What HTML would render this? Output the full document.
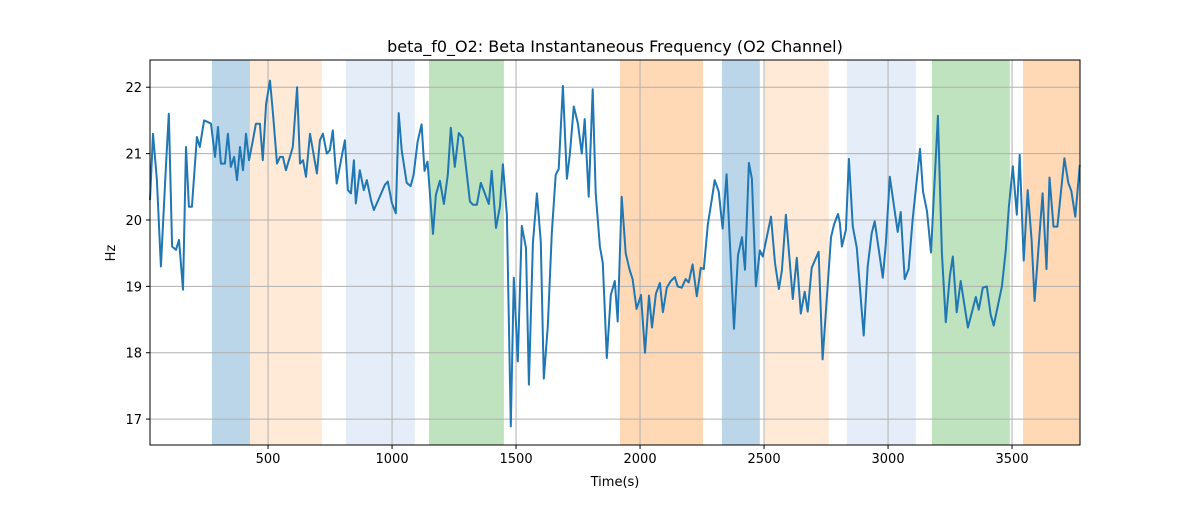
<!DOCTYPE html>
<html><head><meta charset="utf-8"><style>
body{margin:0;background:#fff;}
svg text{font-family:"DejaVu Sans","Liberation Sans",sans-serif;fill:#000;}
</style></head><body>
<svg id="chart" width="1200" height="500" xmlns="http://www.w3.org/2000/svg">
<rect width="1200" height="500" fill="#fff"/>
<g id="bands"></g><g id="grid"></g><g id="series"></g><g id="axes"></g>
</svg>
<script>
const times=[24,36,52,68,88,100,113,129,141,157,169,181,193,213,225,242,254,270,286,298,310,326,338,350,363,375,387,399,411,423,439,451,467,479,492,508,520,536,548,560,572,588,600,617,629,641,653,669,681,697,709,721,737,749,761,777,794,810,822,834,846,854,870,886,898,915,927,971,983,999,1015,1027,1039,1059,1075,1087,1103,1119,1131,1143,1165,1177,1193,1209,1225,1237,1253,1269,1285,1314,1326,1342,1358,1374,1390,1402,1419,1435,1447,1463,1479,1491,1507,1523,1540,1552,1568,1584,1600,1612,1628,1644,1660,1672,1689,1705,1717,1733,1749,1765,1777,1793,1809,1821,1838,1850,1866,1882,1898,1910,1926,1942,1958,1970,1986,2004,2020,2036,2048,2064,2080,2092,2108,2124,2140,2152,2168,2184,2196,2212,2229,2245,2257,2273,2289,2301,2317,2333,2349,2379,2395,2411,2423,2439,2451,2467,2483,2495,2528,2544,2560,2572,2588,2616,2632,2648,2664,2676,2692,2720,2736,2770,2782,2798,2806,2814,2830,2842,2858,2874,2902,2918,2934,2946,2979,2991,3007,3039,3051,3067,3083,3099,3129,3141,3157,3173,3201,3217,3233,3249,3261,3277,3293,3322,3338,3354,3366,3382,3398,3414,3426,3459,3475,3487,3503,3519,3531,3547,3563,3579,3591,3607,3623,3639,3651,3667,3683,3711,3727,3739,3755,3773];
const values=[20.3,21.3,20.6,19.3,20.8,21.6,19.6,19.55,19.7,18.95,21.1,20.2,20.2,21.25,21.1,21.5,21.48,21.45,20.95,21.4,20.85,20.85,21.3,20.8,20.95,20.6,21.1,20.75,21.3,20.9,21.2,21.45,21.45,20.9,21.75,22.1,21.6,20.85,20.95,20.95,20.75,20.95,21.1,22.0,20.85,20.9,20.65,21.3,21.05,20.7,21.2,21.3,21.0,21.05,21.35,20.55,20.9,21.2,20.45,20.4,20.9,20.25,20.75,20.45,20.6,20.3,20.15,20.53,20.58,20.26,20.1,21.61,21.05,20.56,20.51,20.68,21.18,21.44,20.74,20.88,19.79,20.38,20.59,20.24,20.68,21.39,20.8,21.31,21.24,20.28,20.23,20.23,20.56,20.4,20.24,20.74,19.88,20.2,20.84,20.07,16.89,19.13,17.87,19.91,19.58,17.52,19.65,20.4,19.67,17.61,18.4,19.8,20.68,20.77,22.02,20.62,21.0,21.71,21.46,21.0,21.52,20.35,21.97,20.4,19.6,19.35,17.92,18.87,19.08,18.47,20.35,19.5,19.25,19.11,18.66,18.87,18.0,18.86,18.38,18.89,19.05,18.61,18.98,19.08,19.14,19.0,18.98,19.11,19.06,19.33,18.85,19.28,19.26,19.93,20.3,20.6,20.43,19.87,20.69,18.36,19.47,19.74,19.25,20.86,20.62,19.0,19.54,19.45,20.05,19.35,18.96,19.24,20.08,18.81,19.43,18.59,18.92,18.62,19.28,19.52,17.9,19.74,19.93,20.09,19.95,19.6,19.85,20.92,19.9,19.58,18.26,19.3,19.8,19.98,19.13,19.64,20.65,19.82,20.12,19.11,19.26,20.0,21.07,20.43,20.13,19.51,21.57,19.5,18.46,19.15,19.45,18.61,19.08,18.38,18.61,18.84,18.65,18.98,19.0,18.57,18.41,19.0,19.55,20.18,20.81,20.08,20.98,19.39,20.45,19.7,18.78,19.6,20.4,19.26,20.64,19.9,19.9,20.93,20.56,20.44,20.05,20.83];
const bandStarts=[274,427,814,1149,1919,2330,2503,2834,3177,3544];
const bandEnds=[427,717,1092,1451,2254,2483,2761,3112,3491,3774];
const bandColors=["rgba(31,119,180,0.3)","rgba(255,127,14,0.16)","rgba(174,199,232,0.32)","rgba(44,160,44,0.3)","rgba(255,127,14,0.3)","rgba(31,119,180,0.3)","rgba(255,127,14,0.16)","rgba(174,199,232,0.32)","rgba(44,160,44,0.3)","rgba(255,127,14,0.3)"];
const xTicks=[500,1000,1500,2000,2500,3000,3500];
const yTicks=[17,18,19,20,21,22];
const xMin=24,xMax=3774,yMin=16.61,yMax=22.41;
const L=150,R=1080,T=60,B=445;
const NS="http://www.w3.org/2000/svg";
const xs=v=>L+(v-xMin)/(xMax-xMin)*(R-L);
const ys=v=>B-(v-yMin)/(yMax-yMin)*(B-T);
function mk(tag,attrs,parent,txt){const e=document.createElementNS(NS,tag);for(const k in attrs)e.setAttribute(k,attrs[k]);if(txt!==undefined)e.textContent=txt;parent.appendChild(e);return e;}
const gB=document.getElementById('bands'),gG=document.getElementById('grid'),gS=document.getElementById('series'),gA=document.getElementById('axes');
bandStarts.forEach((s,i)=>{const r=mk('rect',{x:xs(s),y:T,width:xs(bandEnds[i])-xs(s),height:B-T,fill:bandColors[i]},gB);

});
xTicks.forEach(t=>{const x=xs(t);
const g=mk('line',{x1:x,x2:x,y1:T,y2:B,stroke:'#b0b0b0','stroke-width':1},gG);


mk('line',{x1:x,x2:x,y1:B,y2:B+4,stroke:'#000'},gA);
const tx=mk('text',{x:x,y:B+18,'text-anchor':'middle','font-size':13},gA,String(t));

});
yTicks.forEach(t=>{const y=ys(t);
const g=mk('line',{x1:L,x2:R,y1:y,y2:y,stroke:'#b0b0b0','stroke-width':1},gG);


mk('line',{x1:L-4,x2:L,y1:y,y2:y,stroke:'#000'},gA);
const tx=mk('text',{x:L-8,y:y+5,'text-anchor':'end','font-size':13},gA,String(t));

});
const p=mk('polyline',{points:times.map((t,i)=>xs(t).toFixed(1)+','+ys(values[i]).toFixed(1)).join(' '),fill:'none',stroke:'#1f77b4','stroke-width':2,'stroke-linejoin':'round'},gS);


const fr=mk('rect',{x:L,y:T,width:R-L,height:B-T,fill:'none',stroke:'#000','stroke-width':1},gA);


const ti=mk('text',{x:(L+R)/2,y:52,'text-anchor':'middle','font-size':16},gA,'beta_f0_O2: Beta Instantaneous Frequency (O2 Channel)');


const xl=mk('text',{x:(L+R)/2,y:486,'text-anchor':'middle','font-size':13},gA,'Time(s)');


const yl=mk('text',{x:115,y:253,'text-anchor':'middle','font-size':13,transform:'rotate(-90 115 253)'},gA,'Hz');


</script>
</body></html>
